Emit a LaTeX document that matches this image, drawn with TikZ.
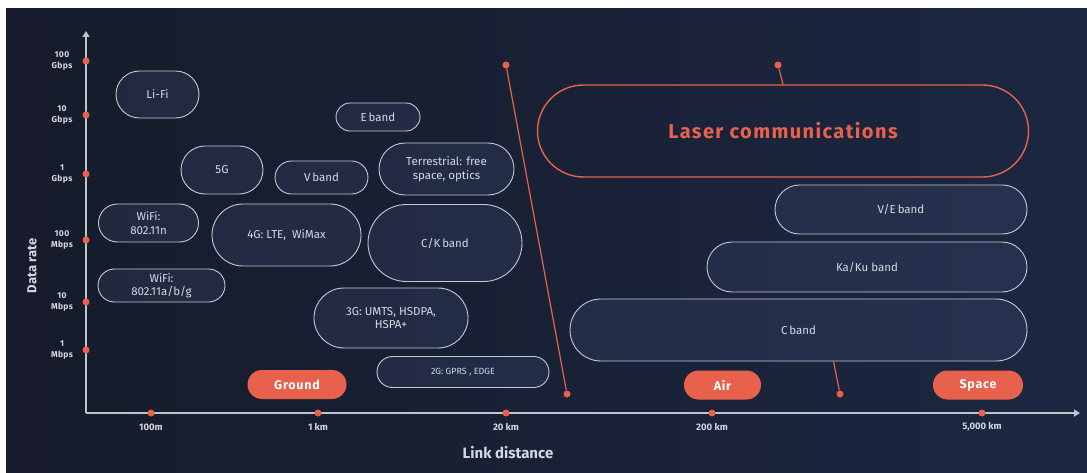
\documentclass[tikz,border=0pt]{standalone}
\usepackage{fontspec}
\setmainfont{Fira Sans}
\usetikzlibrary{shapes.misc,arrows.meta}
\definecolor{bgA}{HTML}{171B2B}
\definecolor{bgB}{HTML}{1B2741}
\definecolor{accent}{HTML}{E8614D}
\definecolor{pillline}{HTML}{C5C9D3}
\definecolor{pillfill}{HTML}{5A6A9A}
\definecolor{pilltext}{HTML}{D6D9E1}
\definecolor{axisline}{HTML}{BFC3CD}
\definecolor{labtext}{HTML}{D4D7DF}
\tikzset{
  pill/.style={rounded rectangle, draw=pillline, line width=0.9pt, fill=pillfill,
    fill opacity=0.17, draw opacity=1, text opacity=1, text=pilltext,
    font=\fontsize{11.5}{13.5}\selectfont, align=center, inner sep=0pt},
  tag/.style={rounded rectangle, fill=accent, text=white, inner sep=0pt,
    font=\bfseries\fontsize{12.5}{14}\selectfont\addfontfeature{LetterSpace=6}, minimum height=29pt},
  dot/.style={circle, fill=accent, inner sep=0pt, minimum size=7pt},
  axis/.style={draw=axisline, line width=1.6pt, -{Triangle[width=7pt,length=6pt]}},
  redline/.style={draw=accent, line width=1.2pt},
  ylab/.style={text=labtext, align=center, font=\bfseries\fontsize{8.5}{11}\selectfont\addfontfeature{LetterSpace=4}},
  xlab/.style={text=labtext, font=\bfseries\fontsize{9.5}{11}\selectfont},
  title/.style={text=labtext, font=\bfseries\fontsize{13}{15}\selectfont}
}
\begin{document}
\begin{tikzpicture}[x=1pt,y=-1pt]
\useasboundingbox (0,0) rectangle (1087,473);
\fill[white] (0,0) rectangle (1087,473);
\shade[left color=bgA, right color=bgB] (6,9) rectangle (1087,473);

% axes
\coordinate (O) at (86,413);
\coordinate (ytop) at (86,31);
\coordinate (xend) at (1080,413);
\draw[axis] (O) -- (ytop);
\draw[axis] (O) -- (xend);

% y ticks
\node[dot] (t100g) at (86,61) {};
\node[dot] (t10g) at (86,115) {};
\node[dot] (t1g) at (86,174) {};
\node[dot] (t100m) at (86,240) {};
\node[dot] (t10m) at (86,302) {};
\node[dot] (t1m) at (86,350) {};
\node[ylab] (l100g) at (62,61) {100\\Gbps};
\node[ylab] (l10g) at (62,115) {10\\Gbps};
\node[ylab] (l1g) at (62,174) {1\\Gbps};
\node[ylab] (l100m) at (62,240) {100\\Mbps};
\node[ylab] (l10m) at (62,302) {10\\Mbps};
\node[ylab] (l1m) at (62,350) {1\\Mbps};
\node[title, rotate=90] (ytitle) at (32,266) {Data rate};

% x ticks
\node[dot] (x100m) at (151,413) {};
\node[dot] (x1km) at (318,413) {};
\node[dot] (x20km) at (506,413) {};
\node[dot] (x200km) at (712,413) {};
\node[dot] (x5000km) at (982,413) {};
\node[xlab] (lx100m) at (151,427) {100m};
\node[xlab] (lx1km) at (318,427) {1 km};
\node[xlab] (lx20km) at (506,427) {20 km};
\node[xlab] (lx200km) at (712,427) {200 km};
\node[xlab] (lx5000km) at (982,427) {5,000 km};
\node[title, font=\bfseries\fontsize{15}{17}\selectfont] (xtitle) at (508,453) {Link distance};

% ground technologies
\node[pill, minimum width=83pt, minimum height=47pt] (lifi) at (157.5,94.5) {Li-Fi};
\node[pill, minimum width=84pt, minimum height=28pt] (eband) at (378,117) {E\,band};
\node[pill, minimum width=82pt, minimum height=48pt] (fiveg) at (222,170) {5G};
\node[pill, minimum width=93pt, minimum height=33pt] (vband) at (321.5,177.5) {V\,band};
\node[pill, minimum width=135pt, minimum height=52pt] (terr) at (446.5,169) {Terrestrial: free\\space, optics};
\node[pill, minimum width=100pt, minimum height=38pt] (wifin) at (148.5,223) {WiFi:\\802.11n};
\node[pill, minimum width=149pt, minimum height=62pt] (lte) at (286.5,235) {4G: LTE, \ WiMax};
\node[pill, minimum width=154pt, minimum height=77pt] (ck) at (445,243) {C/K\,band};
\node[pill, minimum width=127pt, minimum height=33pt] (wifiabg) at (161.5,285.5) {WiFi:\\802.11a/b/g};
\node[pill, minimum width=154pt, minimum height=60pt] (threeg) at (391,318) {3G: UMTS, HSDPA,\\HSPA+};
\node[pill, minimum width=172pt, minimum height=31pt, font=\fontsize{9}{10}\selectfont] (twog) at (463,372) {2G: GPRS , EDGE};

% air / space technologies
\node[pill, minimum width=252pt, minimum height=49pt] (veband) at (901,209.5) {V/E\,band};
\node[pill, minimum width=320pt, minimum height=50pt] (kaku) at (867,267) {Ka/Ku band};
\node[pill, minimum width=457pt, minimum height=62pt] (cband) at (798.5,330) {C\,band};
\node[rounded rectangle, draw=accent, line width=1.4pt, inner sep=0pt,
      minimum width=491pt, minimum height=92pt, text=accent,
      font=\bfseries\fontsize{20}{23}\selectfont\addfontfeature{LetterSpace=7}] (laser) at (783,131) {Laser communications};

% category tags
\node[tag, minimum width=99pt] (ground) at (297,384.5) {Ground};
\node[tag, minimum width=77pt] (air) at (722.5,385) {Air};
\node[tag, minimum width=90pt] (space) at (978,385) {Space};

% red leader lines
\node[dot] (d1) at (506,65) {};
\node[dot] (d2) at (567,394) {};
\node[dot] (d3) at (778,65) {};
\node[dot] (d4) at (840,394) {};
\draw[redline] (d1) -- (d2);
\draw[redline] (d3) -- (laser.north);
\draw[redline] ([xshift=35pt]cband.south) -- (d4);
\end{tikzpicture}
\end{document}
